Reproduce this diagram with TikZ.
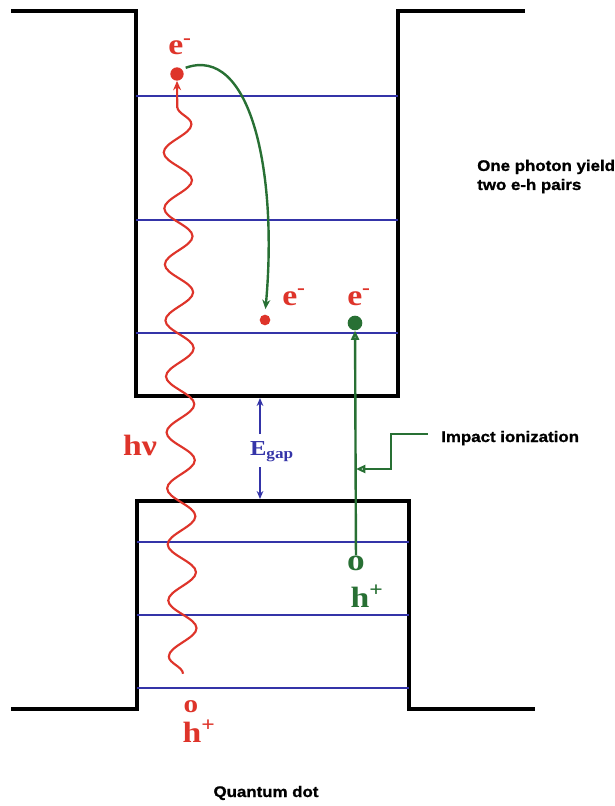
\documentclass[tikz,border=0pt]{standalone}
\usepackage{fontspec}
\setmainfont{Liberation Serif}
\newfontfamily\notefont[FakeStretch=1.1,FakeBold=1.2]{Liberation Sans}
\newfontfamily\symfont[FakeStretch=1.15]{Liberation Serif}
\usetikzlibrary{arrows.meta,decorations.pathmorphing}
\definecolor{elred}{RGB}{222,52,42}
\definecolor{lvlblue}{RGB}{52,52,168}
\definecolor{iigreen}{RGB}{40,112,52}

\begin{document}
\begin{tikzpicture}[x=0.75pt, y=-0.75pt,
  wall/.style={line width=2.4pt, black},
  lvl/.style={line width=1.7pt, lvlblue},
  lvlthin/.style={line width=1.2pt, lvlblue},
  dot/.style={circle, inner sep=0pt, minimum size=#1},
  lab/.style={font=\symfont\bfseries\fontsize{22}{22}\selectfont, inner sep=0pt, anchor=base},
  note/.style={font=\notefont\bfseries\fontsize{11.5}{14.3}\selectfont, align=left, inner sep=0pt, anchor=base west},
  garr/.style={iigreen, line width=1.8pt},
  barr/.style={lvlblue, line width=1pt, -{Stealth[length=6pt,width=5pt]}},
  wave/.style={elred, line width=1.6pt, -{Stealth[length=7pt,width=6pt]},
               decorate, decoration={snake, amplitude=10.5pt, segment length=42pt, post length=6pt}},
]
  \useasboundingbox (0,0) rectangle (614,806);

  % conduction band well
  \draw[wall] (11,11) -- (136,11) -- (136,396) -- (398,396) -- (398,11) -- (525,11);
  % valence band well
  \draw[wall] (11,709) -- (137,709) -- (137,501) -- (409,501) -- (409,709) -- (535,709);

  % energy levels
  \foreach \y in {96,220,333}
    \draw[lvl] (136,\y) -- (398,\y);
  \foreach \y in {542,615,688}
    \draw[lvlthin] (137,\y) -- (409,\y);

  % carriers
  \node[dot=10pt, fill=elred] (e1) at (177,74) {};
  \node[dot=8pt, fill=elred] (e2) at (265,320) {};
  \node[dot=11pt, fill=iigreen] (e3) at (355,323) {};
  \node[lab, elred] (e1lab) at (180,55) {e\textsuperscript{-}};
  \node[lab, elred] (e2lab) at (294,305) {e\textsuperscript{-}};
  \node[lab, elred] (e3lab) at (359,305) {e\textsuperscript{-}};
  \node[lab, iigreen, font=\symfont\bfseries\fontsize{23}{23}\selectfont] (h2) at (356,570) {o};
  \node[lab, iigreen] (h2lab) at (367,607) {h\textsuperscript{+}};
  \node[lab, elred, font=\symfont\bfseries\fontsize{19}{19}\selectfont] (h1) at (191,712) {o};
  \node[lab, elred] (h1lab) at (199,742) {h\textsuperscript{+}};
  \node[lab, elred] (hnu) at (140,455) {hν};

  % photon
  \draw[wave] (h1.north) ++(-8,-26) -- (e1.south);

  % relaxation and impact ionization
  \draw[garr, -{Stealth[length=7pt,width=6pt]}, shorten <=3pt, shorten >=4pt]
    (e1.north east) .. controls (250,45) and (278,170) .. (e2.north);
  \draw[garr, -{Triangle[open,length=7pt,width=6pt,fill=white]}] (h2) -- (e3);

  % band gap
  \node[lab, lvlblue, font=\symfont\bfseries\fontsize{16}{16}\selectfont] (gap) at (272,455) {E\textsubscript{gap}};
  \coordinate (cbot) at (260,398);
  \coordinate (vtop) at (260,499);
  \draw[barr] ([yshift=5pt]gap.north -| cbot) -- (cbot);
  \draw[barr] ([yshift=-4pt]gap.south -| vtop) -- (vtop);

  % notes
  \node[note] (yield) at (477,190) {One photon yield\\two e-h pairs};
  \node[note] (imp) at (441,442) {Impact ionization};
  \node[note, anchor=base] (qd) at (266,797) {Quantum dot};
  \coordinate (kink) at (391,469);
  \coordinate (hit) at (356,469);
  \draw[garr, line width=1.6pt, -{Triangle[open,length=7pt,width=6pt,fill=white]}]
    ([xshift=-10pt,yshift=3pt]imp.west) -| (kink) -- (hit);
\end{tikzpicture}
\end{document}
